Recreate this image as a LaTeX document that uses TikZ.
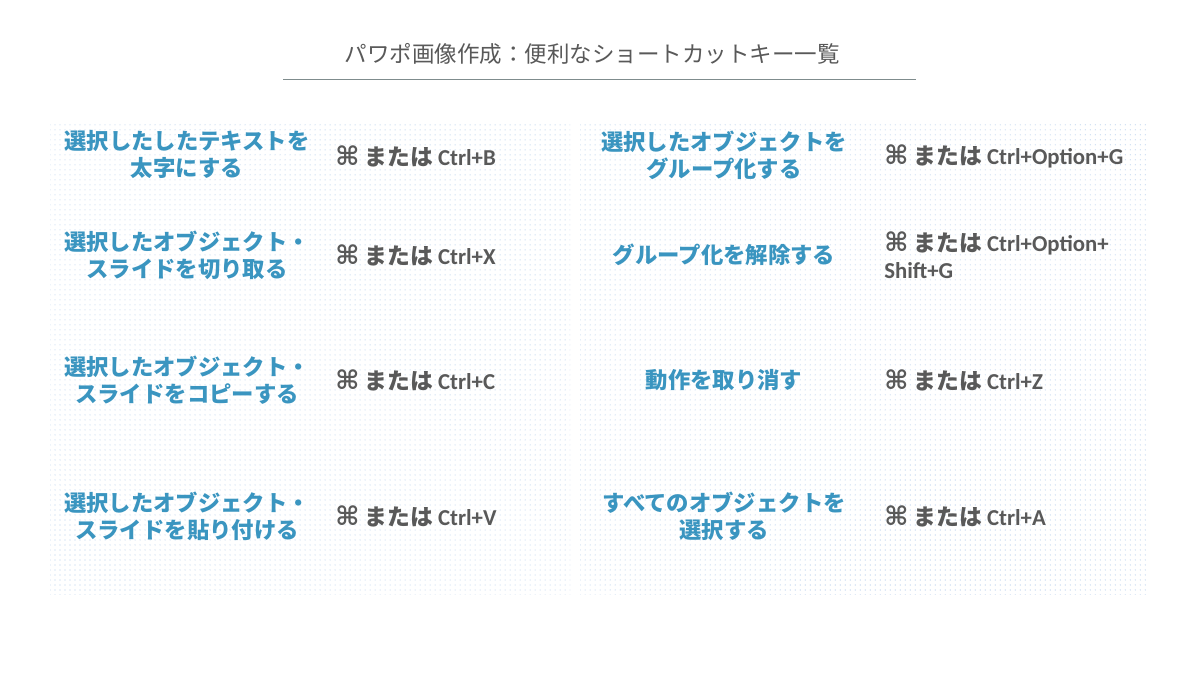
\documentclass[tikz,border=0pt]{standalone}
\usepackage{fontspec}
\setmainfont{Carlito}
\newfontfamily\jpfont{Noto Sans CJK JP}
\newfontfamily\symfont{DejaVu Sans}
\usepackage{tikz}
\usetikzlibrary{positioning, patterns.meta}
\definecolor{azul}{HTML}{3A95C0}
\definecolor{gristexto}{HTML}{595959}
\definecolor{linea}{HTML}{7F8C8D}
\definecolor{puntos}{HTML}{B4CCEA}
\newcommand{\atajocmd}[1]{{\symfont\bfseries\fontsize{18.5}{19.2}\selectfont ⌘} {\jpfont\bfseries または} #1}
\tikzstyle{panel} = [pattern={Dots[distance=0.125cm, radius=0.4pt]}, pattern color=puntos]
\tikzstyle{accion} = [text=azul, font=\jpfont\bfseries\fontsize{15.9}{19.2}\selectfont, align=center, inner sep=0pt]
\tikzstyle{atajo} = [text=gristexto, font=\bfseries\fontsize{16.2}{19.2}\selectfont, align=left, anchor=west, inner sep=0pt]
\tikzstyle{titulo} = [text=gristexto, font=\jpfont\fontsize{16}{19}\selectfont, inner sep=0pt]

\begin{document}
\begin{tikzpicture}[x=0.025cm, y=-0.025cm]
	\useasboundingbox (0,0) rectangle (1200,675);
	\fill[white] (0,0) rectangle (1200,675);
	% fondos punteados
	\fill[panel] (50,125) rectangle (570,594);
	\fill[panel] (580,125) rectangle (1148,594);
	% titulo
	\node[titulo] (tit) at (592,54) {パワポ画像作成：便利なショートカットキー一覧};
	\coordinate (l1) at (283,79);
	\coordinate (l2) at (916,79);
	\draw[linea, line width=0.7pt] (l1) -- (l2);
	% columna izquierda
	\node[accion] (a1) at (187,155) {選択したしたテキストを\\太字にする};
	\node[atajo] (b1) at (335,156) {\atajocmd{Ctrl+B}};
	\node[accion] (a2) at (187,255) {選択したオブジェクト・\\スライドを切り取る};
	\node[atajo] (b2) at (335,255) {\atajocmd{Ctrl+X}};
	\node[accion] (a3) at (187,380) {選択したオブジェクト・\\スライドをコピーする};
	\node[atajo] (b3) at (335,380) {\atajocmd{Ctrl+C}};
	\node[accion] (a4) at (187,516) {選択したオブジェクト・\\スライドを貼り付ける};
	\node[atajo] (b4) at (335,516) {\atajocmd{Ctrl+V}};
	% columna derecha
	\node[accion] (c1) at (724,155) {選択したオブジェクトを\\グループ化する};
	\node[atajo] (d1) at (884,156) {\atajocmd{Ctrl+Option+G}};
	\node[accion] (c2) at (724,255) {グループ化を解除する};
	\node[atajo] (d2) at (884,255) {\atajocmd{Ctrl+Option+}\\Shift+G};
	\node[accion] (c3) at (724,380) {動作を取り消す};
	\node[atajo] (d3) at (884,380) {\atajocmd{Ctrl+Z}};
	\node[accion] (c4) at (724,516) {すべてのオブジェクトを\\選択する};
	\node[atajo] (d4) at (884,516) {\atajocmd{Ctrl+A}};
\end{tikzpicture}
\end{document}
